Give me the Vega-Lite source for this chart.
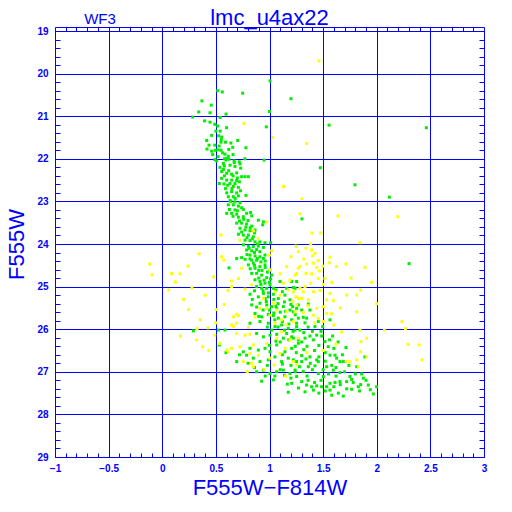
{
  "$schema": "https://vega.github.io/schema/vega-lite/v6.json",
  "width": 429,
  "height": 426,
  "autosize": {"type": "none"},
  "padding": {"left": 55, "top": 31, "right": 28, "bottom": 55},
  "background": "white",
  "view": {"stroke": "#0000ff", "strokeWidth": 1},
  "datasets": {
    "green": [
      {"col":1.005,"mag":20.17},{"col":0.517,"mag":20.40},{"col":0.56,"mag":20.43},{"col":0.75,"mag":20.46},{"col":1.20,"mag":20.59},{"col":0.37,"mag":20.64},{"col":0.457,"mag":20.74},{"col":0.34,"mag":20.90},{"col":0.445,"mag":20.92},{"col":0.284,"mag":21.02},{"col":0.595,"mag":20.95},{"col":1.0,"mag":20.89},{"col":0.395,"mag":21.11},{"col":0.445,"mag":21.14},{"col":0.54,"mag":21.03},{"col":0.97,"mag":21.25},{"col":0.49,"mag":21.19},{"col":0.517,"mag":21.23},{"col":0.60,"mag":21.27},{"col":0.50,"mag":21.35},{"col":0.54,"mag":21.35},{"col":0.526,"mag":21.46},{"col":0.554,"mag":21.49},{"col":0.548,"mag":21.61},{"col":0.59,"mag":21.61},{"col":0.414,"mag":21.57},{"col":0.436,"mag":21.68},{"col":0.417,"mag":21.77},{"col":0.461,"mag":21.82},{"col":0.49,"mag":21.68},{"col":0.495,"mag":21.80},{"col":0.52,"mag":21.79},{"col":0.548,"mag":21.80},{"col":0.563,"mag":21.86},{"col":0.585,"mag":21.89},{"col":0.64,"mag":21.63},{"col":0.703,"mag":21.57},{"col":0.657,"mag":21.73},{"col":0.78,"mag":21.74},{"col":0.616,"mag":21.94},{"col":0.60,"mag":21.99},{"col":0.622,"mag":22.01},{"col":0.67,"mag":22.05},{"col":0.718,"mag":22.07},{"col":0.77,"mag":22.00},{"col":0.95,"mag":22.03},{"col":0.49,"mag":22.02},{"col":0.507,"mag":22.05},{"col":0.57,"mag":22.11},
      {"col":0.594,"mag":22.03},{"col":0.672,"mag":22.09},{"col":0.725,"mag":22.12},{"col":0.538,"mag":22.20},{"col":0.579,"mag":22.17},{"col":0.632,"mag":22.15},{"col":0.678,"mag":22.18},{"col":0.731,"mag":22.22},{"col":0.554,"mag":22.30},{"col":0.601,"mag":22.34},{"col":0.647,"mag":22.36},{"col":0.694,"mag":22.33},{"col":0.74,"mag":22.42},{"col":0.772,"mag":22.42},{"col":0.803,"mag":22.42},{"col":0.554,"mag":22.46},{"col":0.601,"mag":22.50},{"col":0.647,"mag":22.50},{"col":0.694,"mag":22.51},{"col":0.532,"mag":22.58},{"col":0.576,"mag":22.59},{"col":0.632,"mag":22.58},{"col":0.678,"mag":22.58},{"col":0.719,"mag":22.54},{"col":0.663,"mag":22.65},{"col":0.71,"mag":22.67},{"col":0.601,"mag":22.80},{"col":0.647,"mag":22.77},{"col":0.694,"mag":22.80},{"col":0.781,"mag":22.86},{"col":0.616,"mag":22.89},{"col":0.663,"mag":22.89},{"col":0.71,"mag":22.87},{"col":0.632,"mag":22.98},{"col":0.678,"mag":23.01},{"col":0.725,"mag":23.03},{"col":0.616,"mag":23.08},{"col":0.663,"mag":23.08},{"col":0.71,"mag":23.11},{"col":0.626,"mag":23.19},{"col":0.678,"mag":23.20},{"col":0.756,"mag":23.19},{"col":0.601,"mag":23.28},{"col":0.647,"mag":23.28},{"col":0.694,"mag":23.30},{"col":0.787,"mag":23.28},{"col":0.824,"mag":23.26},{"col":0.71,"mag":23.37},{"col":0.756,"mag":23.36},{"col":0.834,"mag":23.34},{"col":0.896,"mag":23.44},{"col":0.943,"mag":23.48},{"col":0.936,"mag":23.55},{"col":0.694,"mag":23.51},{"col":0.74,"mag":23.51},{"col":0.787,"mag":23.53},{"col":0.834,"mag":23.58},{"col":0.725,"mag":23.63},{"col":0.772,"mag":23.67},{"col":0.818,"mag":23.69},{"col":0.865,"mag":23.67},{"col":0.71,"mag":23.77},{"col":0.756,"mag":23.79},{"col":0.803,"mag":23.79},{"col":0.849,"mag":23.83},{"col":0.911,"mag":23.95},{"col":0.772,"mag":23.91},{"col":0.818,"mag":23.92},{"col":0.865,"mag":23.95},{"col":0.958,"mag":23.97},{"col":1.011,"mag":23.97},{"col":0.756,"mag":24.02},{"col":0.803,"mag":24.05},{"col":0.849,"mag":24.06},{"col":0.896,"mag":24.05},{"col":0.943,"mag":24.08},{"col":0.787,"mag":24.14},{"col":0.834,"mag":24.16},{"col":0.88,"mag":24.13},{"col":0.818,"mag":24.26},{"col":0.865,"mag":24.28},{"col":0.911,"mag":24.30},{"col":0.958,"mag":24.26},{"col":0.772,"mag":24.36},{"col":0.834,"mag":24.38},{"col":0.943,"mag":24.34},
      {"col":1.555,"mag":21.21},{"col":2.462,"mag":21.27},{"col":1.474,"mag":22.21},{"col":1.797,"mag":22.61},{"col":2.117,"mag":22.90},{"col":1.303,"mag":23.41},{"col":2.301,"mag":24.46},{"col":0.622,"mag":24.56},
      {"col":0.57,"mag":22.25},{"col":0.62,"mag":22.28},{"col":0.66,"mag":22.40},{"col":0.58,"mag":22.40},{"col":0.70,"mag":22.45},{"col":0.61,"mag":22.62},{"col":0.65,"mag":22.70},{"col":0.73,"mag":22.75},{"col":0.59,"mag":22.70},{"col":0.68,"mag":22.93},{"col":0.64,"mag":23.00},{"col":0.74,"mag":23.15},{"col":0.70,"mag":23.22},{"col":0.66,"mag":23.35},{"col":0.76,"mag":23.42},{"col":0.80,"mag":23.45},{"col":0.72,"mag":23.46},{"col":0.78,"mag":23.60},{"col":0.82,"mag":23.62},{"col":0.86,"mag":23.74},{"col":0.74,"mag":23.72},{"col":0.79,"mag":23.85},{"col":0.84,"mag":23.88},{"col":0.89,"mag":24.00},{"col":0.81,"mag":24.10},{"col":0.86,"mag":24.20},{"col":0.91,"mag":24.18},{"col":0.79,"mag":24.25},{"col":0.88,"mag":24.38},{"col":0.92,"mag":24.42},{"col":0.86,"mag":24.50},{"col":0.96,"mag":24.40},{"col":0.55,"mag":21.55},{"col":0.46,"mag":21.45},{"col":0.52,"mag":21.95},{"col":0.58,"mag":22.00},{"col":0.53,"mag":21.70},{"col":0.62,"mag":21.78},{"col":0.66,"mag":21.90},{"col":0.47,"mag":21.90},
      {"col":0.694,"mag":24.34},{"col":0.74,"mag":24.32},{"col":0.818,"mag":24.35},{"col":0.849,"mag":24.45},{"col":0.887,"mag":24.34},{"col":0.803,"mag":24.49},{"col":0.865,"mag":24.57},{"col":0.911,"mag":24.53},{"col":0.958,"mag":24.49},{"col":1.005,"mag":24.61},{"col":0.834,"mag":24.69},{"col":0.88,"mag":24.69},{"col":0.927,"mag":24.73},{"col":0.974,"mag":24.79},{"col":1.02,"mag":24.73},{"col":0.865,"mag":24.84},{"col":0.911,"mag":24.88},{"col":0.958,"mag":24.92},{"col":1.005,"mag":24.96},{"col":0.88,"mag":25.00},{"col":0.927,"mag":25.04},{"col":0.974,"mag":25.04},{"col":1.036,"mag":25.04},{"col":1.098,"mag":24.88},{"col":1.16,"mag":25.04},{"col":1.222,"mag":25.02},{"col":1.253,"mag":24.88},{"col":0.818,"mag":25.18},{"col":0.896,"mag":25.24},{"col":0.943,"mag":25.16},{"col":0.989,"mag":25.24},{"col":1.036,"mag":25.18},{"col":1.082,"mag":25.28},{"col":1.144,"mag":25.20},{"col":1.191,"mag":25.31},{"col":0.834,"mag":25.43},{"col":0.911,"mag":25.39},{"col":0.974,"mag":25.43},{"col":1.02,"mag":25.47},{"col":1.067,"mag":25.51},{"col":1.129,"mag":25.47},{"col":1.191,"mag":25.55},{"col":1.253,"mag":25.51},{"col":0.865,"mag":25.63},{"col":0.927,"mag":25.71},{"col":0.989,"mag":25.65},{"col":1.036,"mag":25.68},{"col":1.082,"mag":25.74},{"col":1.144,"mag":25.71},{"col":1.207,"mag":25.78},{"col":1.269,"mag":25.74},{"col":0.818,"mag":25.86},{"col":0.911,"mag":25.82},{"col":0.989,"mag":25.86},{"col":1.051,"mag":25.94},{"col":1.113,"mag":25.90},{"col":1.175,"mag":25.98},{"col":1.253,"mag":25.94},{"col":0.29,"mag":26.04},{"col":0.523,"mag":26.02},{"col":0.585,"mag":26.02},{"col":0.88,"mag":26.10},{"col":0.943,"mag":26.18},{"col":1.005,"mag":26.14},{"col":1.067,"mag":26.12},{"col":1.129,"mag":26.21},{"col":1.207,"mag":26.18},{"col":1.269,"mag":26.33},{"col":0.532,"mag":26.37},{"col":0.756,"mag":26.53},{"col":0.818,"mag":26.45},{"col":0.896,"mag":26.49},{"col":0.958,"mag":26.45},{"col":1.005,"mag":26.53},{"col":1.067,"mag":26.37},{"col":1.144,"mag":26.53},{"col":1.207,"mag":26.45},{"col":0.694,"mag":26.76},{"col":0.787,"mag":26.61},{"col":0.849,"mag":26.68},{"col":0.911,"mag":26.76},{"col":0.989,"mag":26.72},{"col":1.051,"mag":26.65},{"col":1.113,"mag":26.76},{"col":1.175,"mag":26.68},{"col":1.253,"mag":26.76},{"col":0.88,"mag":27.00},{"col":0.943,"mag":26.96},{"col":1.005,"mag":27.04},{"col":1.067,"mag":27.00},{"col":1.129,"mag":26.96},{"col":1.191,"mag":27.04},{"col":0.927,"mag":27.22},{"col":1.036,"mag":27.19},{"col":1.166,"mag":27.29},{"col":1.175,"mag":27.48},
      {"col":1.207,"mag":24.88},{"col":1.238,"mag":25.04},{"col":1.216,"mag":25.47},{"col":1.269,"mag":25.43},{"col":1.222,"mag":25.59},{"col":1.362,"mag":25.41},{"col":1.377,"mag":25.55},{"col":1.346,"mag":25.74},{"col":1.315,"mag":25.72},{"col":1.253,"mag":25.86},{"col":1.284,"mag":26.02},{"col":1.331,"mag":25.85},{"col":1.424,"mag":25.94},{"col":1.455,"mag":25.82},{"col":1.496,"mag":25.94},{"col":1.564,"mag":25.78},{"col":1.238,"mag":26.02},{"col":1.222,"mag":26.21},{"col":1.269,"mag":26.25},{"col":1.331,"mag":26.21},{"col":1.377,"mag":26.16},{"col":1.409,"mag":26.25},{"col":1.44,"mag":26.14},{"col":1.486,"mag":26.16},{"col":1.517,"mag":26.29},{"col":1.548,"mag":26.41},{"col":1.589,"mag":26.16},{"col":1.611,"mag":26.61},{"col":1.564,"mag":26.61},{"col":1.626,"mag":26.68},{"col":1.657,"mag":26.76},{"col":1.688,"mag":26.76},{"col":1.713,"mag":26.43},{"col":1.813,"mag":26.88},{"col":1.859,"mag":27.05},{"col":1.89,"mag":26.65},{"col":1.921,"mag":27.31},{"col":1.999,"mag":27.35},{"col":1.968,"mag":27.52},{"col":1.75,"mag":27.11},{"col":1.766,"mag":27.18},{"col":1.719,"mag":27.23},{"col":1.657,"mag":27.23},{"col":1.611,"mag":27.25},{"col":1.564,"mag":27.27},{"col":1.533,"mag":27.35},{"col":1.486,"mag":27.35},{"col":1.44,"mag":27.33},{"col":1.393,"mag":27.35},{"col":1.346,"mag":27.31},{"col":1.3,"mag":27.23},{"col":1.253,"mag":27.11},{"col":1.207,"mag":27.27},{"col":1.331,"mag":27.47},{"col":1.409,"mag":27.43},{"col":1.564,"mag":27.43},{"col":1.642,"mag":27.50},{"col":1.688,"mag":27.57},{"col":1.766,"mag":27.41},{"col":1.828,"mag":27.35},{"col":1.875,"mag":27.15},{"col":1.502,"mag":27.11},{"col":1.455,"mag":27.04},{"col":1.362,"mag":26.88},{"col":1.3,"mag":26.76},{"col":1.222,"mag":26.72},{"col":1.377,"mag":26.65},{"col":1.455,"mag":26.76},{"col":1.533,"mag":26.88},{"col":1.595,"mag":26.96},{"col":1.657,"mag":27.02},{"col":1.424,"mag":26.86},{"col":1.315,"mag":26.99},{"col":1.238,"mag":26.96},
      {"col":0.594,"mag":26.55},
      {"col":0.93,"mag":24.62},{"col":0.98,"mag":24.66},{"col":0.90,"mag":24.80},{"col":0.95,"mag":24.85},{"col":1.0,"mag":24.90},{"col":0.94,"mag":25.10},{"col":0.99,"mag":25.15},{"col":1.04,"mag":25.30},{"col":0.97,"mag":25.35},{"col":1.08,"mag":25.40},{"col":1.0,"mag":25.55},{"col":1.10,"mag":25.60},{"col":1.15,"mag":25.58},{"col":1.05,"mag":25.78},{"col":1.12,"mag":25.82},{"col":1.18,"mag":25.88},{"col":1.22,"mag":26.05},{"col":1.16,"mag":26.10},{"col":1.10,"mag":26.30},{"col":1.30,"mag":26.30},{"col":1.35,"mag":26.40},{"col":1.25,"mag":26.55},{"col":1.42,"mag":26.50},{"col":1.30,"mag":26.62},{"col":1.38,"mag":26.80},{"col":1.46,"mag":26.65},{"col":1.28,"mag":26.88},{"col":1.52,"mag":26.75},{"col":1.40,"mag":26.95},{"col":1.58,"mag":26.85},{"col":1.35,"mag":27.10},{"col":1.48,"mag":27.20},{"col":1.62,"mag":27.10},{"col":1.70,"mag":27.00},{"col":1.55,"mag":27.05},{"col":1.42,"mag":27.25},{"col":1.78,"mag":27.25},{"col":1.85,"mag":27.30},{"col":1.60,"mag":27.35},{"col":1.72,"mag":27.40},{"col":1.20,"mag":27.15},{"col":1.10,"mag":26.95},{"col":1.05,"mag":27.10},{"col":0.98,"mag":26.85},{"col":1.52,"mag":26.55},{"col":1.60,"mag":26.45},
      {"col":0.96,"mag":24.55},{"col":1.01,"mag":24.82},{"col":0.92,"mag":24.95},{"col":1.06,"mag":25.08},{"col":1.12,"mag":25.12},{"col":0.96,"mag":25.28},{"col":1.06,"mag":25.46},{"col":1.14,"mag":25.36},{"col":1.2,"mag":25.42},{"col":0.94,"mag":25.55},{"col":1.04,"mag":25.62},{"col":1.24,"mag":25.66},{"col":1.3,"mag":25.55},{"col":1.08,"mag":25.95},{"col":1.02,"mag":26.02},{"col":1.14,"mag":26.02},{"col":1.32,"mag":26.08},{"col":1.4,"mag":26.05},{"col":1.18,"mag":26.25},{"col":1.06,"mag":26.28},{"col":1.0,"mag":26.38},{"col":1.24,"mag":26.4},{"col":1.32,"mag":26.48},{"col":1.46,"mag":26.38},{"col":1.12,"mag":26.6},{"col":1.2,"mag":26.85},{"col":1.34,"mag":26.7},{"col":1.44,"mag":26.72},{"col":1.5,"mag":26.95},{"col":1.62,"mag":26.9},{"col":1.68,"mag":26.6},{"col":1.74,"mag":26.85},{"col":1.8,"mag":27.05},{"col":1.9,"mag":27.2},{"col":1.94,"mag":27.42},{"col":1.84,"mag":27.45},{"col":1.52,"mag":27.45},{"col":1.46,"mag":27.5},{"col":1.27,"mag":27.38},{"col":1.14,"mag":27.08},{"col":0.96,"mag":27.1},{"col":0.86,"mag":26.9},{"col":0.8,"mag":26.8},{"col":0.72,"mag":26.6},{"col":1.66,"mag":27.3},{"col":1.58,"mag":27.55},{"col":1.36,"mag":27.2},{"col":1.24,"mag":27.0},{"col":1.12,"mag":26.82},{"col":1.56,"mag":26.25},{"col":1.64,"mag":26.3},{"col":1.48,"mag":26.05},{"col":1.36,"mag":25.95},{"col":0.98,"mag":25.95},{"col":0.9,"mag":25.7},{"col":0.88,"mag":25.48},{"col":0.84,"mag":25.3},{"col":0.86,"mag":25.1},{"col":0.9,"mag":24.62},{"col":0.82,"mag":24.58}
    ],
    "yellow": [
      {"col":1.461,"mag":19.70},{"col":0.762,"mag":21.17},{"col":1.03,"mag":21.50},{"col":1.346,"mag":21.64},{"col":1.13,"mag":22.65},{"col":1.303,"mag":22.94},{"col":1.284,"mag":23.29},{"col":1.639,"mag":23.34},{"col":2.195,"mag":23.36},{"col":1.396,"mag":23.74},{"col":1.477,"mag":23.74},{"col":0.974,"mag":23.48},{"col":0.849,"mag":23.69},{"col":0.548,"mag":23.79},{"col":0.896,"mag":23.87},{"col":0.725,"mag":23.91},{"col":1.02,"mag":24.16},{"col":0.999,"mag":24.26},{"col":0.343,"mag":24.23},{"col":0.554,"mag":24.30},{"col":1.247,"mag":24.05},{"col":1.269,"mag":24.18},{"col":1.34,"mag":24.10},{"col":1.384,"mag":24.00},{"col":1.393,"mag":24.14},{"col":1.424,"mag":24.22},{"col":1.402,"mag":24.28},{"col":1.455,"mag":24.39},{"col":1.346,"mag":24.47},{"col":1.409,"mag":24.45},{"col":1.496,"mag":24.52},{"col":1.564,"mag":24.31},{"col":1.558,"mag":24.44},{"col":1.626,"mag":24.53},{"col":1.713,"mag":24.47},{"col":1.89,"mag":24.55},{"col":1.844,"mag":23.97},{"col":1.253,"mag":24.69},{"col":1.34,"mag":24.69},{"col":1.393,"mag":24.70},{"col":1.464,"mag":24.63},{"col":1.517,"mag":24.81},{"col":1.455,"mag":24.81},{"col":1.384,"mag":24.92},{"col":1.284,"mag":25.04},{"col":1.331,"mag":25.00},{"col":1.315,"mag":25.12},{"col":1.409,"mag":25.12},{"col":1.471,"mag":25.09},{"col":1.247,"mag":25.24},{"col":1.3,"mag":25.28},{"col":1.362,"mag":25.31},{"col":1.533,"mag":25.31},{"col":1.595,"mag":25.33},{"col":1.564,"mag":25.16},{"col":1.85,"mag":25.08},{"col":1.813,"mag":25.20},{"col":1.216,"mag":25.35},{"col":1.44,"mag":25.51},{"col":1.502,"mag":25.47},{"col":1.533,"mag":25.63},{"col":1.58,"mag":25.64},{"col":1.238,"mag":25.59},{"col":1.315,"mag":25.61},{"col":1.813,"mag":25.59},{"col":1.409,"mag":25.67},{"col":1.455,"mag":25.75},{"col":1.502,"mag":25.82},{"col":1.673,"mag":26.06},{"col":1.844,"mag":26.02},{"col":2.071,"mag":26.02},{"col":1.906,"mag":26.21},{"col":1.853,"mag":26.29},{"col":1.85,"mag":26.53},{"col":1.75,"mag":26.76},{"col":2.236,"mag":25.82},{"col":2.267,"mag":25.99},{"col":2.292,"mag":26.36},{"col":2.394,"mag":26.37},{"col":2.422,"mag":26.72},
      {"col":-0.117,"mag":24.47},{"col":-0.095,"mag":24.72},{"col":0.091,"mag":24.70},{"col":0.166,"mag":24.70},{"col":0.24,"mag":24.52},{"col":0.122,"mag":24.89},{"col":0.06,"mag":25.08},{"col":0.277,"mag":25.03},{"col":0.479,"mag":24.77},{"col":0.573,"mag":24.38},{"col":0.613,"mag":25.09},{"col":0.579,"mag":25.42},{"col":0.246,"mag":25.54},{"col":0.504,"mag":25.54},{"col":0.355,"mag":25.78},{"col":0.324,"mag":25.99},{"col":0.426,"mag":25.97},{"col":0.169,"mag":26.16},{"col":0.321,"mag":26.25},{"col":0.377,"mag":26.41},{"col":0.433,"mag":26.50},{"col":0.489,"mag":26.14},{"col":0.535,"mag":26.33},{"col":0.616,"mag":26.53},
      {"col":0.088,"mag":24.69},{"col":0.647,"mag":24.87},{"col":0.71,"mag":24.81},{"col":0.741,"mag":24.57},{"col":0.772,"mag":25.06},{"col":0.834,"mag":24.96},{"col":0.663,"mag":25.71},{"col":0.694,"mag":25.65},{"col":0.71,"mag":25.68},{"col":0.647,"mag":25.90},{"col":0.663,"mag":25.94},{"col":0.803,"mag":25.96},{"col":0.865,"mag":25.71},{"col":0.911,"mag":25.51},{"col":0.943,"mag":25.28},{"col":0.694,"mag":26.10},{"col":0.772,"mag":26.14},{"col":0.818,"mag":26.12},{"col":0.647,"mag":26.45},{"col":0.725,"mag":26.41},{"col":0.818,"mag":26.57},{"col":0.849,"mag":26.37},{"col":0.793,"mag":27.00},{"col":0.834,"mag":26.80},{"col":0.756,"mag":26.76},{"col":0.896,"mag":26.61},{"col":0.974,"mag":26.33},{"col":1.005,"mag":26.68},{"col":1.042,"mag":26.84},{"col":1.098,"mag":26.57},{"col":1.144,"mag":26.45},{"col":1.222,"mag":26.76},{"col":1.253,"mag":26.84},{"col":1.191,"mag":26.25},{"col":1.269,"mag":26.21},{"col":0.974,"mag":25.51},{"col":1.005,"mag":25.67},{"col":1.051,"mag":25.86},{"col":1.113,"mag":26.06},{"col":1.067,"mag":26.21},{"col":1.16,"mag":25.90},{"col":1.222,"mag":25.82},{"col":1.269,"mag":25.28},{"col":1.253,"mag":25.43},{"col":1.129,"mag":24.92},{"col":1.16,"mag":24.53},{"col":1.269,"mag":24.57},{"col":1.222,"mag":25.12},{"col":0.647,"mag":25.00},{"col":0.694,"mag":25.86},
      {"col":1.253,"mag":24.06},{"col":1.284,"mag":24.53},{"col":1.238,"mag":24.73},{"col":1.191,"mag":24.85},{"col":1.005,"mag":24.61},{"col":1.051,"mag":25.12},{"col":1.098,"mag":25.20},{"col":1.176,"mag":25.08},{"col":1.036,"mag":25.39},{"col":1.067,"mag":25.55},{"col":1.16,"mag":25.59},{"col":1.113,"mag":25.78},{"col":1.906,"mag":26.65},{"col":1.813,"mag":26.72},{"col":1.72,"mag":26.76},{"col":1.828,"mag":26.88},{"col":0.538,"mag":26.33},{"col":0.601,"mag":26.49},{"col":0.849,"mag":26.88},
      {"col":1.32,"mag":24.35},{"col":1.44,"mag":24.55},{"col":1.5,"mag":24.95},{"col":1.36,"mag":25.45},{"col":1.42,"mag":25.85},{"col":1.6,"mag":25.9},{"col":1.66,"mag":25.5},{"col":1.72,"mag":25.2},{"col":1.76,"mag":24.8},{"col":1.58,"mag":24.9},{"col":1.2,"mag":24.3},{"col":1.1,"mag":24.7},{"col":0.4,"mag":25.2},{"col":0.2,"mag":25.3},{"col":0.5,"mag":25.85},{"col":0.95,"mag":26.95},{"col":1.15,"mag":27.1},{"col":1.35,"mag":26.55},{"col":1.62,"mag":26.35},{"col":1.5,"mag":26.5},{"col":2.0,"mag":25.4},{"col":1.95,"mag":24.9}
    ]
  },
  "layer": [
    {
      "data": {"name": "green"},
      "mark": {"type": "square", "size": 9, "filled": true, "opacity": 1, "color": "#00ee00"},
      "encoding": {
        "x": {"field": "col", "type": "quantitative", "scale": {"domain": [-1, 3], "nice": false, "zero": false},
          "axis": {"orient": "bottom", "values": [-1,-0.9,-0.8,-0.7,-0.6,-0.5,-0.4,-0.3,-0.2,-0.1,0,0.1,0.2,0.3,0.4,0.5,0.6,0.7,0.8,0.9,1,1.1,1.2,1.3,1.4,1.5,1.6,1.7,1.8,1.9,2,2.1,2.2,2.3,2.4,2.5,2.6,2.7,2.8,2.9,3],
            "tickCount": 1000, "tickMinStep": 0.01, "labelOverlap": false, "labelBound": false,
            "format": "~g",
            "labelExpr": "abs(datum.value*2 - round(datum.value*2)) < 0.001 ? datum.label : ''",
            "grid": true, "gridColor": "#0000ff", "gridWidth": 1,
            "gridOpacity": {"condition": {"test": "abs(datum.value*2 - round(datum.value*2)) < 0.001", "value": 1}, "value": 0},
            "domain": false, "ticks": true, "tickColor": "#0000ff", "tickSize": -4,
            "labelColor": "#0000ff", "labelFont": "Liberation Sans", "labelFontWeight": "bold", "labelFontSize": 10, "labelPadding": 10, "labelFlush": false,
            "title": "F555W−F814W", "titleColor": "#0000ff", "titleFont": "Liberation Sans", "titleFontSize": 22, "titleFontWeight": "normal", "titlePadding": 4}},
        "y": {"field": "mag", "type": "quantitative", "scale": {"domain": [19, 29], "reverse": true, "nice": false, "zero": false},
          "axis": {"orient": "left", "values": [19,19.2,19.4,19.6,19.8,20,20.2,20.4,20.6,20.8,21,21.2,21.4,21.6,21.8,22,22.2,22.4,22.6,22.8,23,23.2,23.4,23.6,23.8,24,24.2,24.4,24.6,24.8,25,25.2,25.4,25.6,25.8,26,26.2,26.4,26.6,26.8,27,27.2,27.4,27.6,27.8,28,28.2,28.4,28.6,28.8,29],
            "tickCount": 1000, "tickMinStep": 0.01, "labelOverlap": false, "labelBound": false,
            "format": "~g",
            "labelExpr": "abs(datum.value - round(datum.value)) < 0.001 ? datum.label : ''",
            "grid": true, "gridColor": "#0000ff", "gridWidth": 1,
            "gridOpacity": {"condition": {"test": "abs(datum.value - round(datum.value)) < 0.001", "value": 1}, "value": 0},
            "domain": false, "ticks": true, "tickColor": "#0000ff", "tickSize": -5,
            "labelColor": "#0000ff", "labelFont": "Liberation Sans", "labelFontWeight": "bold", "labelFontSize": 10, "labelPadding": 12, "labelFlush": false,
            "title": "F555W", "titleColor": "#0000ff", "titleFont": "Liberation Sans", "titleFontSize": 22, "titleFontWeight": "normal", "titlePadding": 8}}
      }
    },
    {
      "data": {"name": "yellow"},
      "mark": {"type": "square", "size": 9, "filled": true, "opacity": 1, "color": "#ffff00"},
      "encoding": {
        "x": {"field": "col", "type": "quantitative",
          "axis": {"orient": "top", "values": [-1,-0.9,-0.8,-0.7,-0.6,-0.5,-0.4,-0.3,-0.2,-0.1,0,0.1,0.2,0.3,0.4,0.5,0.6,0.7,0.8,0.9,1,1.1,1.2,1.3,1.4,1.5,1.6,1.7,1.8,1.9,2,2.1,2.2,2.3,2.4,2.5,2.6,2.7,2.8,2.9,3],
            "tickCount": 1000, "tickMinStep": 0.01, "labels": false, "grid": false, "domain": true, "domainColor": "#0000ff", "offset": 4, "ticks": true, "tickColor": "#0000ff", "tickSize": -4, "title": null}},
        "y": {"field": "mag", "type": "quantitative",
          "axis": {"orient": "right", "values": [19,19.2,19.4,19.6,19.8,20,20.2,20.4,20.6,20.8,21,21.2,21.4,21.6,21.8,22,22.2,22.4,22.6,22.8,23,23.2,23.4,23.6,23.8,24,24.2,24.4,24.6,24.8,25,25.2,25.4,25.6,25.8,26,26.2,26.4,26.6,26.8,27,27.2,27.4,27.6,27.8,28,28.2,28.4,28.6,28.8,29],
            "tickCount": 1000, "tickMinStep": 0.01, "labels": false, "grid": false, "domain": false, "ticks": true, "tickColor": "#0000ff", "tickSize": -5, "title": null}}
      }
    },
    {
      "data": {"values": [{}]},
      "mark": {"type": "text", "clip": false, "color": "#0000ff", "font": "Liberation Sans", "fontSize": 15, "baseline": "alphabetic", "align": "center"},
      "encoding": {
        "x": {"datum": -0.58, "type": "quantitative", "axis": null},
        "y": {"datum": 18.84, "type": "quantitative", "axis": null},
        "text": {"value": "WF3"}
      }
    },
    {
      "data": {"values": [{}]},
      "mark": {"type": "text", "clip": false, "color": "#0000ff", "font": "Liberation Sans", "fontSize": 22, "baseline": "alphabetic", "align": "center"},
      "encoding": {
        "x": {"datum": 1.0, "type": "quantitative", "axis": null},
        "y": {"datum": 18.86, "type": "quantitative", "axis": null},
        "text": {"value": "lmc_u4ax22"}
      }
    }
  ],
  "resolve": {"axis": {"x": "independent", "y": "independent"}}
}
